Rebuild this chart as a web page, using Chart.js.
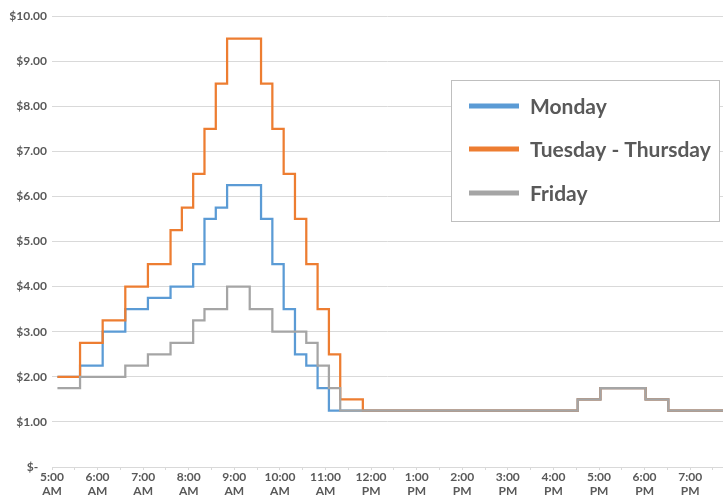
<!DOCTYPE html>
<html>
<head>
<meta charset="utf-8">
<script src="https://cdn.jsdelivr.net/npm/chart.js@4.4.1/dist/chart.umd.min.js"></script>
<style>
  body { margin: 0; background: #fff; }
  canvas { display: block; }
</style>
</head>
<body>
<canvas id="chart" width="723" height="503"></canvas>
<script>
// prices per 15-minute slot, starting 5:00 AM
const seriesNames = ['Monday', 'Tuesday - Thursday', 'Friday'];

const monday = [
    2.00, 2.00, 2.25, 2.25, 3.00, 3.00, 3.50, 3.50, 3.75, 3.75, 4.00, 4.00,
    4.50, 5.50, 5.75, 6.25, 6.25, 6.25, 5.50, 4.50, 3.50, 2.50, 2.25, 1.75,
    1.25, 1.25, 1.25, 1.25, 1.25, 1.25, 1.25, 1.25, 1.25, 1.25, 1.25, 1.25,
    1.25, 1.25, 1.25, 1.25, 1.25, 1.25, 1.25, 1.25, 1.25, 1.25, 1.50, 1.50,
    1.75, 1.75, 1.75, 1.75, 1.50, 1.50, 1.25, 1.25, 1.25, 1.25, 1.25, 1.25
];

const tuesdayThursday = [
    2.00, 2.00, 2.75, 2.75, 3.25, 3.25, 4.00, 4.00, 4.50, 4.50, 5.25, 5.75,
    6.50, 7.50, 8.50, 9.50, 9.50, 9.50, 8.50, 7.50, 6.50, 5.50, 4.50, 3.50,
    2.50, 1.50, 1.50, 1.25, 1.25, 1.25, 1.25, 1.25, 1.25, 1.25, 1.25, 1.25,
    1.25, 1.25, 1.25, 1.25, 1.25, 1.25, 1.25, 1.25, 1.25, 1.25, 1.50, 1.50,
    1.75, 1.75, 1.75, 1.75, 1.50, 1.50, 1.25, 1.25, 1.25, 1.25, 1.25, 1.25
];

const friday = [
    1.75, 1.75, 2.00, 2.00, 2.00, 2.00, 2.25, 2.25, 2.50, 2.50, 2.75, 2.75,
    3.25, 3.50, 3.50, 4.00, 4.00, 3.50, 3.50, 3.00, 3.00, 3.00, 2.75, 2.25,
    1.75, 1.25, 1.25, 1.25, 1.25, 1.25, 1.25, 1.25, 1.25, 1.25, 1.25, 1.25,
    1.25, 1.25, 1.25, 1.25, 1.25, 1.25, 1.25, 1.25, 1.25, 1.25, 1.50, 1.50,
    1.75, 1.75, 1.75, 1.75, 1.50, 1.50, 1.25, 1.25, 1.25, 1.25, 1.25, 1.25
];

const hourLabels = [
    '5:00 AM', '6:00 AM', '7:00 AM', '8:00 AM', '9:00 AM', '10:00 AM', '11:00 AM',
    '12:00 PM', '1:00 PM', '2:00 PM', '3:00 PM', '4:00 PM', '5:00 PM', '6:00 PM', '7:00 PM'
];

const colors = ['#5b9bd5', '#ed7d31', '#a5a5a5'];
const textColor = '#595959';
const gridColor = '#d9d9d9';
const fontFamily = 'Lato, "Open Sans", sans-serif';

// slot i -> hours after 5:00 AM
const toPoints = (values) => values.map((v, i) => ({ x: i / 4, y: v }));

const makeDataset = (label, values, color, order) => ({
    label: label,
    data: toPoints(values),
    borderColor: color,
    borderWidth: 2.25,
    pointRadius: 0,
    stepped: 'before',
    fill: false,
    order: order,
});

// legend box drawn inside the plot, like the original
const boxLegend = {
    id: 'boxLegend',
    afterDraw(chart) {
        const ctx = chart.ctx;
        ctx.save();
        ctx.fillStyle = '#ffffff';
        ctx.fillRect(451.5, 80.5, 268, 141);
        ctx.strokeStyle = '#bfbfbf';
        ctx.lineWidth = 1;
        ctx.strokeRect(451.5, 80.5, 268, 141);

        const rows = [106, 149, 193];
        ctx.font = 'bold 21px ' + fontFamily;
        ctx.textBaseline = 'middle';
        ctx.textAlign = 'left';
        seriesNames.forEach((name, i) => {
            ctx.strokeStyle = colors[i];
            ctx.lineWidth = 5;
            ctx.beginPath();
            ctx.moveTo(469, rows[i]);
            ctx.lineTo(519, rows[i]);
            ctx.stroke();
            ctx.fillStyle = textColor;
            ctx.fillText(name, 530, rows[i] + 1);
        });
        ctx.restore();
    }
};

const config = {
    type: 'line',
    data: {
        datasets: [
            makeDataset(seriesNames[0], monday, colors[0], 3),
            makeDataset(seriesNames[1], tuesdayThursday, colors[1], 2),
            makeDataset(seriesNames[2], friday, colors[2], 1),
        ]
    },
    options: {
        responsive: false,
        animation: false,
        devicePixelRatio: 1,
        layout: { padding: { top: 16, right: 0, bottom: 0, left: 0 } },
        plugins: {
            legend: { display: false },
            tooltip: { enabled: false },
        },
        scales: {
            // data axis (hidden)
            x: {
                type: 'linear',
                display: false,
                min: -0.12,
                max: 14.71,
            },
            // label axis: tick every half hour, label every hour
            x2: {
                type: 'linear',
                position: 'bottom',
                min: 0,
                max: 14.72,
                afterBuildTicks: (scale) => {
                    const ticks = [];
                    for (let h = 0; h <= 14.5; h += 0.5) ticks.push({ value: h });
                    scale.ticks = ticks;
                },
                afterFit: (scale) => { scale.height = 36; },
                grid: {
                    drawOnChartArea: false,
                    drawTicks: true,
                    tickLength: 3,
                    color: gridColor,
                },
                border: { display: true, color: gridColor },
                ticks: {
                    autoSkip: false,
                    maxRotation: 0,
                    padding: 0,
                    color: textColor,
                    font: { family: fontFamily, size: 12, weight: 'bold', lineHeight: 1.15 },
                    callback: (value) => {
                        if (value % 1 !== 0) return '';
                        const label = hourLabels[value];
                        return label ? label.split(' ') : '';
                    }
                }
            },
            y: {
                min: 0,
                max: 10,
                afterFit: (scale) => { scale.width = 52; },
                grid: { color: gridColor, drawTicks: false },
                border: { display: false },
                ticks: {
                    stepSize: 1,
                    padding: 5,
                    color: textColor,
                    font: { family: fontFamily, size: 12, weight: 'bold' },
                    callback: (value) => value === 0 ? '$-   ' : '$' + value.toFixed(2)
                }
            }
        }
    },
    plugins: [boxLegend]
};

new Chart(document.getElementById('chart'), config);
</script>
</body>
</html>
